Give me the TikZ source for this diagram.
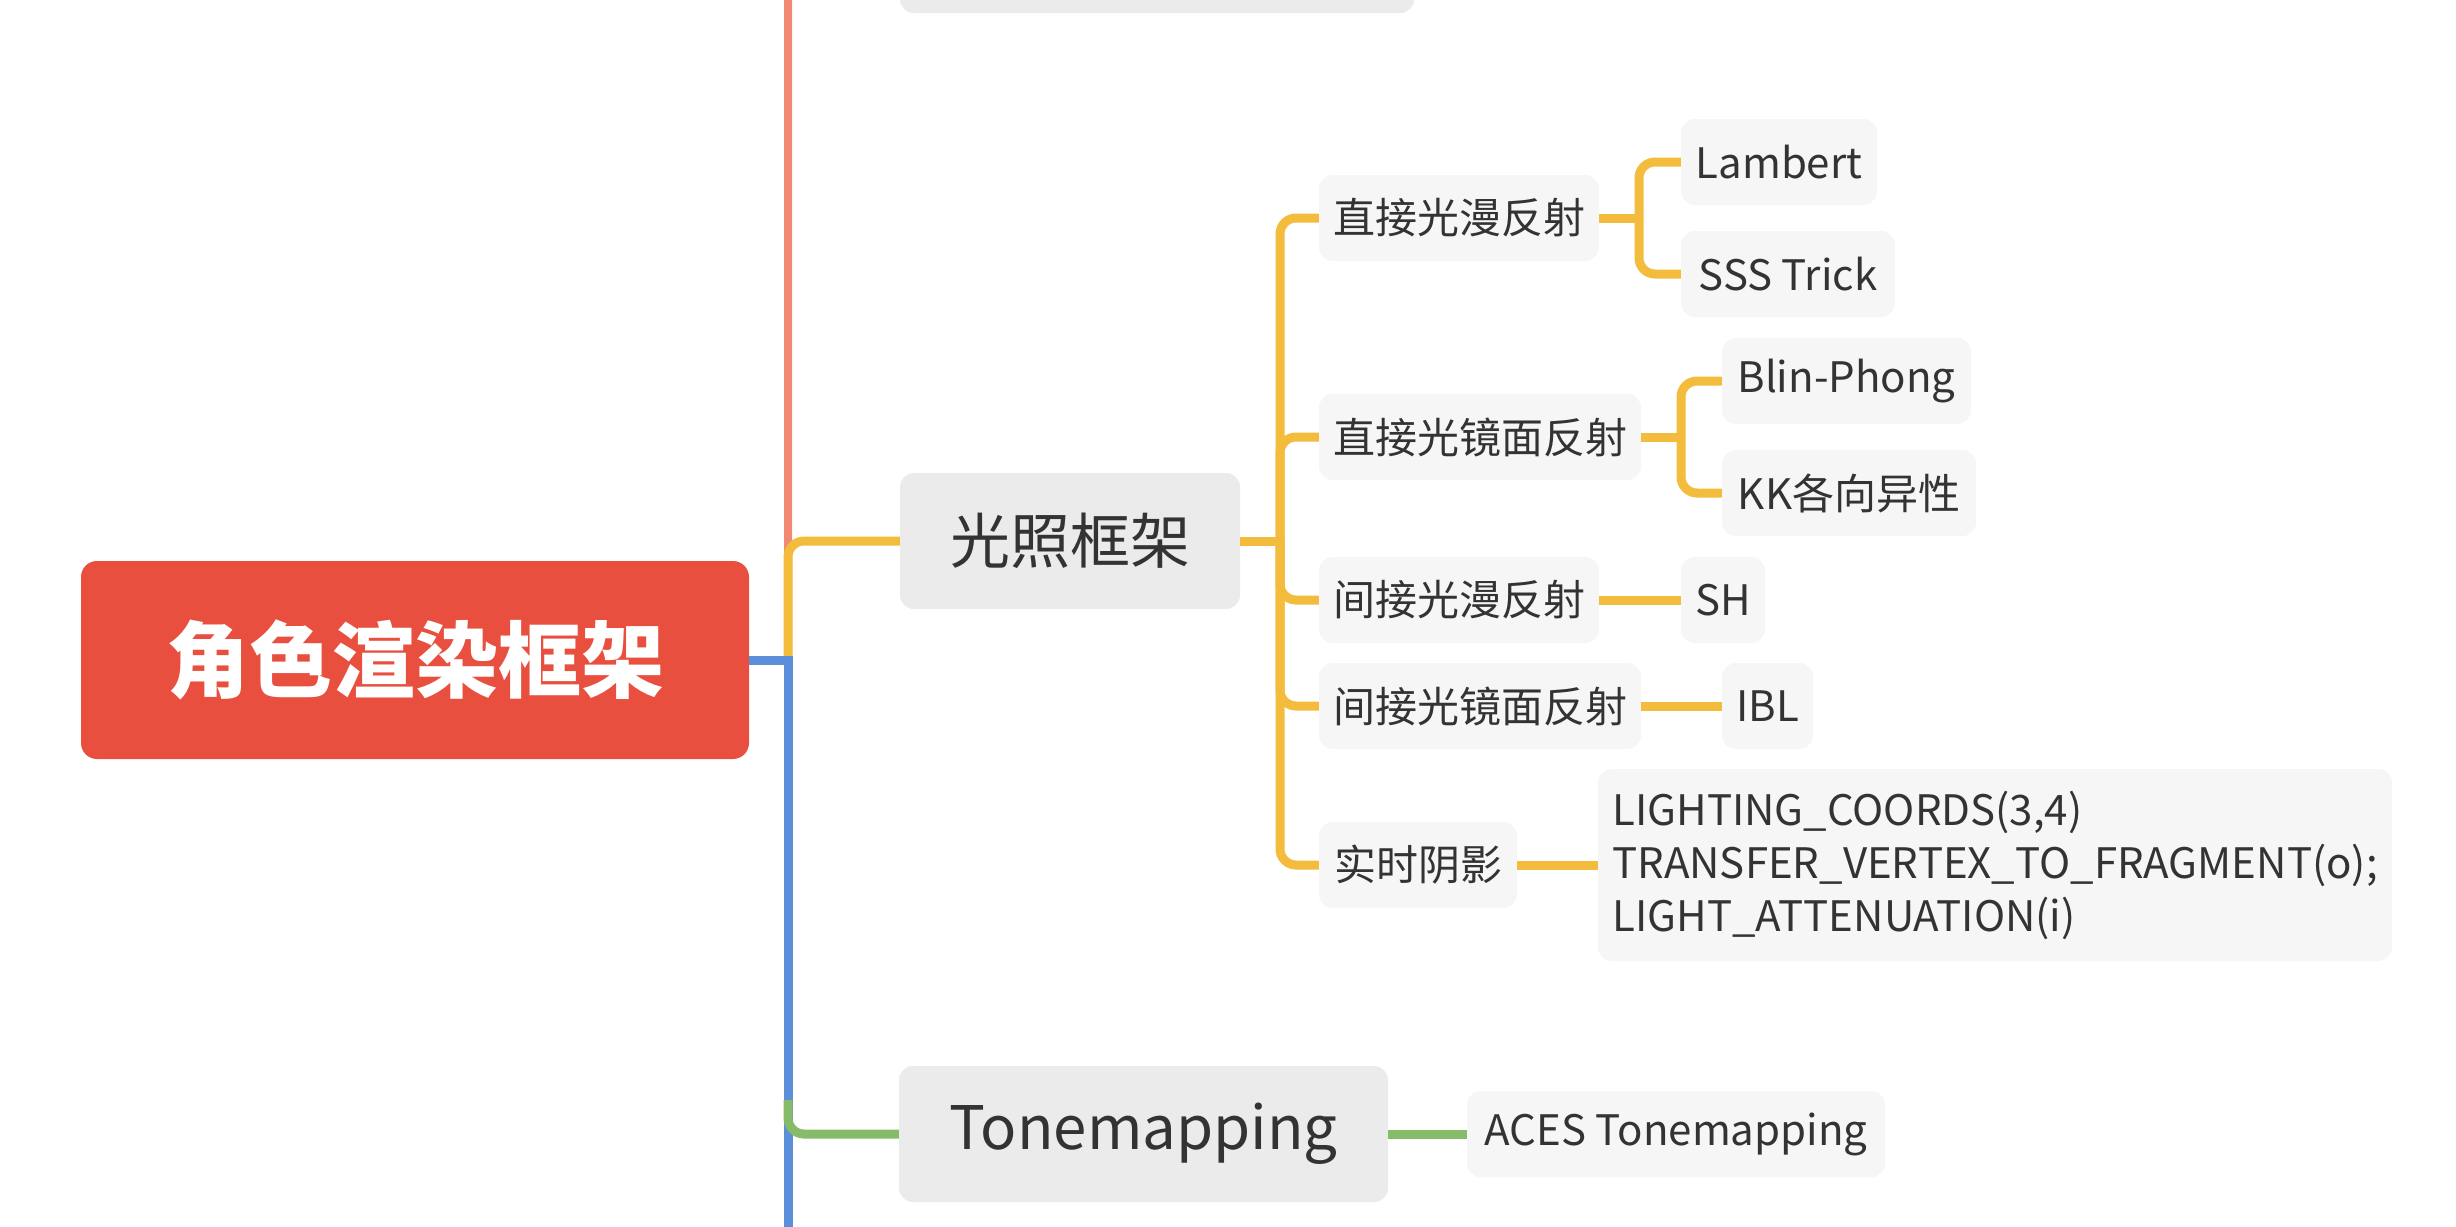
\documentclass[tikz,border=0pt]{standalone}
\usepackage{fontspec}
\newfontfamily\cjk{Noto Sans CJK SC}
\newfontfamily\cjkblack{Noto Sans CJK SC Black}
\definecolor{rootred}{HTML}{E94F3F}
\definecolor{salmon}{HTML}{F08A72}
\definecolor{yel}{HTML}{F4BC3C}
\definecolor{blu}{HTML}{5B8FD9}
\definecolor{grn}{HTML}{86BB6A}
\definecolor{maingray}{HTML}{EBEBEB}
\definecolor{subgray}{HTML}{F6F6F6}
\definecolor{txt}{HTML}{333333}
\tikzset{
  rootbox/.style={fill=rootred, rounded corners=16pt, text=white, inner sep=0pt,
    minimum width=668pt, minimum height=198pt, font=\cjkblack\fontsize{83}{90}\selectfont},
  mainbox/.style={fill=maingray, rounded corners=14pt, text=txt, inner sep=0pt,
    minimum height=136pt, font=\cjk\fontsize{60}{70}\selectfont},
  subbox/.style={fill=subgray, rounded corners=14pt, text=txt, inner sep=0pt,
    minimum height=86pt, font=\cjk\fontsize{42}{53}\selectfont},
  link/.style={line width=9pt, rounded corners=16pt},
}
\begin{document}
\begin{tikzpicture}[x=1pt,y=-1pt]
\clip (0,0) rectangle (2456,1226);
\fill[white] (0,0) rectangle (2456,1226);

% nodes
\node[rootbox] (root) at (415,660) {角色渲染框架};
\node[mainbox, minimum width=514pt] (top) at (1157,-55) {};
\node[mainbox, minimum width=340pt] (light) at (1070,541) {光照框架};
\node[mainbox, minimum width=489pt] (tone) at (1143.5,1134) {Tonemapping};

\node[subbox, minimum width=280pt] (d1) at (1459,218) {直接光漫反射};
\node[subbox, minimum width=322pt] (d2) at (1480,437) {直接光镜面反射};
\node[subbox, minimum width=280pt] (i1) at (1459,600) {间接光漫反射};
\node[subbox, minimum width=322pt] (i2) at (1480,706) {间接光镜面反射};
\node[subbox, minimum width=198pt] (rt) at (1418,865) {实时阴影};

\node[subbox, minimum width=196pt] (lam) at (1779,162) {Lambert};
\node[subbox, minimum width=214pt] (sss) at (1788,274) {SSS Trick};
\node[subbox, minimum width=249pt] (blin) at (1846.5,381) {Blin-Phong};
\node[subbox, minimum width=254pt] (kk) at (1849,493) {KK各向异性};
\node[subbox, minimum width=84pt] (shn) at (1723,600) {SH};
\node[subbox, minimum width=91pt] (ibl) at (1767.5,706) {IBL};
\node[subbox, minimum width=794pt, minimum height=192pt, align=left] (code) at (1995,865)
  {LIGHTING\_COORDS(3,4)\\TRANSFER\_VERTEX\_TO\_FRAGMENT(o);\\LIGHT\_ATTENUATION(i)};
\node[subbox, minimum width=418pt] (aces) at (1676,1134) {ACES Tonemapping};

% coordinates
\coordinate (j) at (788,660);
\coordinate (jl) at (1280,541);
\coordinate (jd1) at (1639,218);
\coordinate (jd2) at (1681,437);
\coordinate (jg) at (788,1100);
\coordinate (jb) at (788,1240);

% main branches
\draw[link, salmon, line width=8pt] (j) |- (top.west);
\draw[link, yel] (j) |- (light.west);
\draw[link, blu, rounded corners=0pt] (root.east |- j) -- (j) -- (jb);
\draw[link, grn] (jg) |- (tone.west);
\draw[link, grn] (tone.east) -- (aces.west);

% lighting sub-branches
\draw[link, yel] (light.east) -- (jl);
\foreach \n in {d1,d2,i1,i2,rt} \draw[link, yel] (jl) |- (\n.west);
\draw[link, yel] (d1.east) -- (jd1);
\draw[link, yel] (jd1) |- (lam.west);
\draw[link, yel] (jd1) |- (sss.west);
\draw[link, yel] (d2.east) -- (jd2);
\draw[link, yel] (jd2) |- (blin.west);
\draw[link, yel] (jd2) |- (kk.west);
\draw[link, yel] (i1.east) -- (shn.west);
\draw[link, yel] (i2.east) -- (ibl.west);
\draw[link, yel] (rt.east) -- (code.west);
\end{tikzpicture}
\end{document}
